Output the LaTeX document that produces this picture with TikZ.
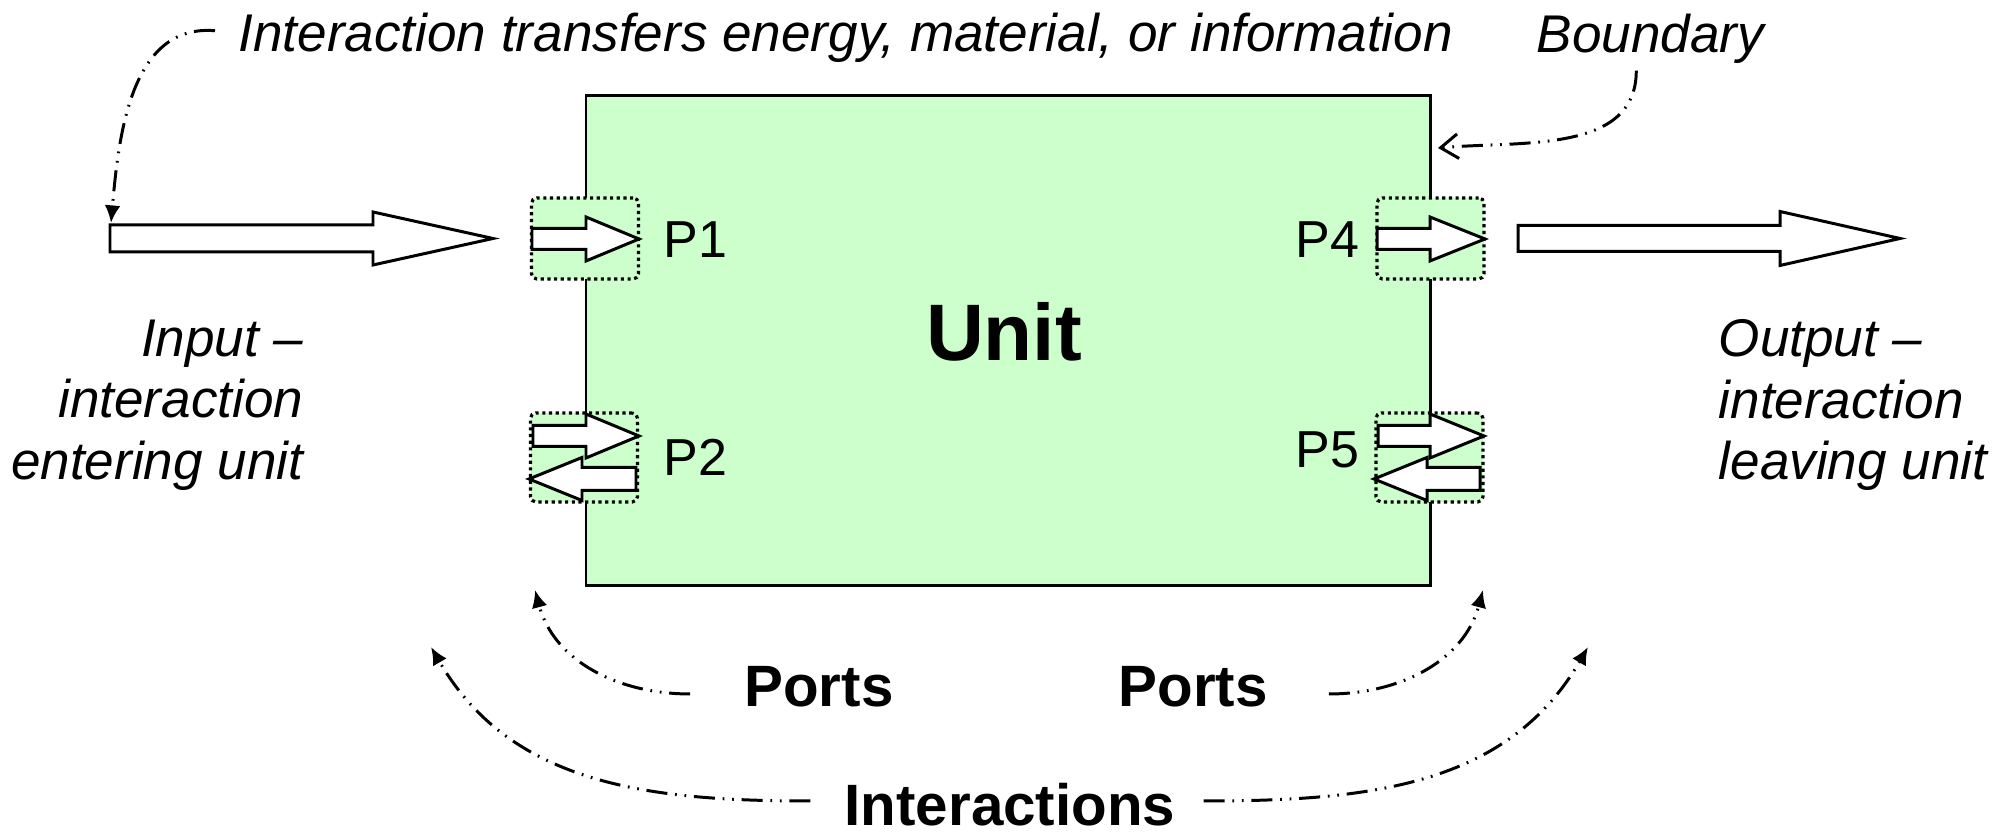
\documentclass[tikz,border=0pt]{standalone}
\usepackage{fontspec}
\setmainfont{Liberation Sans}
\usepackage{xcolor}
\usepackage{tikz}
\usetikzlibrary{calc}
\usetikzlibrary{arrows.meta}
\usetikzlibrary{positioning}
\definecolor{unitgreen}{HTML}{CCFFCC}
\tikzset{>=latex}
\tikzstyle{callout} = [-{Latex[length=5pt,width=4.5pt]}, line width=0.85pt, dash pattern=on 6pt off 2.2pt on 0.5pt off 2.2pt on 0.5pt off 2.2pt]
\tikzstyle{portbox} = [rectangle, draw=black, densely dotted, line width=0.9pt, rounded corners=1.5pt, fill=unitgreen, minimum width=1.07cm, inner sep=0pt]
\tikzstyle{fatarrow} = [draw=black, fill=white, line width=0.85pt]
\tikzstyle{note} = [inner sep=0pt, font=\fontsize{15.1}{17.5}\selectfont\itshape]
\tikzstyle{portlabel} = [inner sep=0pt, font=\fontsize{14.8}{17.5}\selectfont]
\tikzstyle{heading} = [inner sep=0pt, font=\fontsize{16.6}{20}\selectfont\bfseries]
% tail x, head x, tip x, centre y, half shaft, half head
\newcommand{\blockarrow}[6]{\draw[fatarrow] (#1,#4+#5) -- (#2,#4+#5) -- (#2,#4+#6) -- (#3,#4) -- (#2,#4-#6) -- (#2,#4-#5) -- (#1,#4-#5) -- cycle;}

\begin{document}
\begin{tikzpicture}
\useasboundingbox (0,0) rectangle (20.05,8.32);
\node [rectangle, draw=black, line width=0.85pt, fill=unitgreen, minimum width=8.44cm, minimum height=4.90cm] (unit) at (10.08, 4.91) {};
\node [inner sep=0pt, font=\fontsize{22.8}{27}\selectfont\bfseries] (unitname) at (10.04, 5.00) {Unit};
% ports
\node [portbox, minimum height=0.81cm] (P1box) at (5.85, 5.935) {};
\node [portbox, minimum height=0.89cm] (P2box) at (5.84, 3.745) {};
\node [portbox, minimum height=0.81cm] (P4box) at (14.305, 5.935) {};
\node [portbox, minimum height=0.89cm] (P5box) at (14.295, 3.745) {};
\blockarrow{5.32}{5.86}{6.39}{5.93}{0.105}{0.22}
\blockarrow{5.33}{5.86}{6.39}{3.96}{0.105}{0.22}
\blockarrow{6.36}{5.82}{5.29}{3.53}{0.115}{0.215}
\blockarrow{13.77}{14.30}{14.85}{5.93}{0.105}{0.22}
\blockarrow{13.78}{14.30}{14.84}{3.96}{0.105}{0.22}
\blockarrow{14.80}{14.27}{13.74}{3.53}{0.115}{0.215}
% input and output
\blockarrow{1.10}{3.73}{4.93}{5.935}{0.135}{0.265}
\blockarrow{15.18}{17.80}{19.00}{5.935}{0.13}{0.27}
\node [portlabel, anchor=west] (P1) at (6.63, 5.92) {P1};
\node [portlabel, anchor=west] (P2) at (6.63, 3.745) {P2};
\node [portlabel, anchor=east] (P4) at (13.60, 5.92) {P4};
\node [portlabel, anchor=east] (P5) at (13.60, 3.825) {P5};
% notes
\node [note, anchor=base west] (transfer) at (2.38, 7.80) {Interaction transfers energy, material, or information};
\node [note, anchor=base west] (boundary) at (15.36, 7.79) {Boundary};
\node [note, anchor=east, align=right] (input) at (3.04, 4.27) {Input --\\interaction\\entering unit};
\node [note, anchor=west, align=left] (output) at (17.18, 4.27) {Output --\\interaction\\leaving unit};
\node [heading] (portsL) at (8.19, 1.45) {Ports};
\node [heading] (portsR) at (11.93, 1.45) {Ports};
\node [heading] (inter) at (10.10, 0.27) {Interactions};
\coordinate (inTail) at (1.11, 6.09);
\coordinate (edge) at (14.38, 6.84);
\coordinate (leftPorts) at (5.35, 2.42);
\coordinate (leftInter) at (4.31, 1.85);
\coordinate (rightPorts) at (14.83, 2.42);
\coordinate (rightInter) at (15.88, 1.85);
\draw [callout] ([xshift=-2.3mm, yshift=0.75mm]transfer.west) to[out=175, in=85] (inTail);
\draw [callout, -{Straight Barb[length=5pt,width=7pt]}] ([xshift=-1.4mm, yshift=-0.6mm]boundary.south) to[out=-90, in=5] (edge);
\draw [callout] ([xshift=-5.35mm, yshift=-0.7mm]portsL.west) to[out=180, in=-75] (leftPorts);
\draw [callout] ([xshift=6.05mm, yshift=-0.7mm]portsR.east) to[out=0, in=-105] (rightPorts);
\draw [callout] ([xshift=-3.35mm, yshift=0.4mm]inter.west) to[out=180, in=-60] (leftInter);
\draw [callout] ([xshift=2.75mm, yshift=0.4mm]inter.east) to[out=0, in=-120] (rightInter);
\end{tikzpicture}
\end{document}
